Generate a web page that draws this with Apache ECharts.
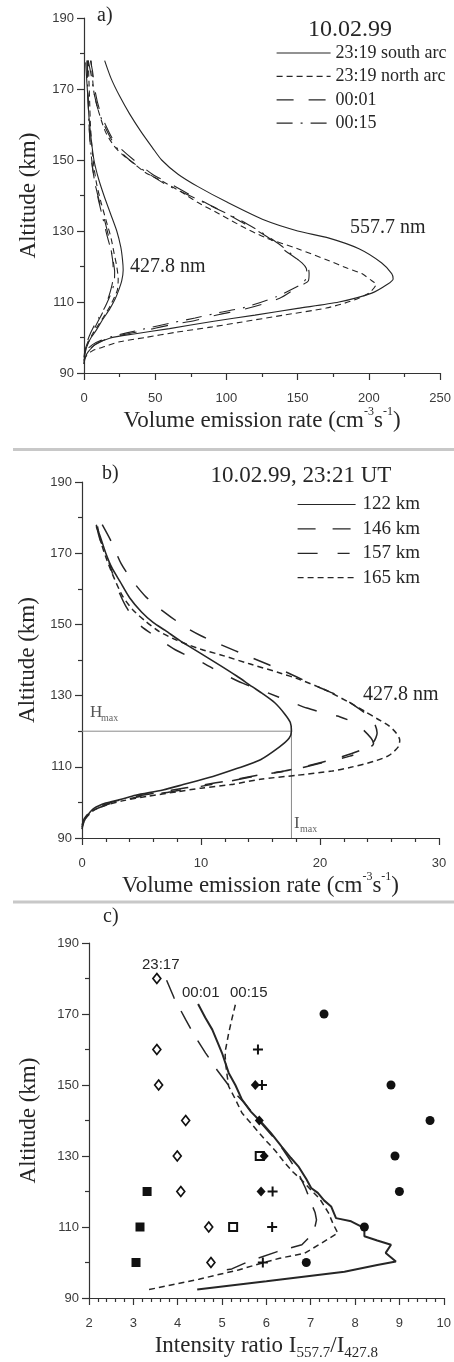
<!DOCTYPE html>
<html>
<head>
<meta charset="utf-8">
<script src="https://cdn.jsdelivr.net/npm/echarts/dist/echarts.min.js"></script>
<style>
html, body { margin: 0; padding: 0; background: #fff; }
#chart { width: 454px; height: 1362px; }
</style>
</head>
<body>
<div id="chart"></div>
<script>
// ---------- a) volume emission rate, 10.02.99 : [rate, altitude km] ----------
const southArc5577 = [[14.5,178],[19,173],[25,168],[32,163],[40,158],[48,153.5],[54.5,150],[66,146],[80,142.5],[101,138],[127,133],[150,130],[172,128],[193,125],[209,121],[216,118],[217,116.5],[213,115],[202,112.5],[179,110],[150,108.2],[120,106.3],[90,104.5],[60,102.5],[35,101],[18,99.8],[8,98],[3,96],[1,94.5],[0,92.5]];
const northArc5577 = [[5,178],[6,173],[7,169],[10,164],[15,158],[21,154],[27,151.5],[35,149],[43,146.5],[55,144],[67,141.3],[80,138],[95,134.8],[110,131.5],[127,128.2],[150,125],[172,121.6],[185,119.5],[195,118],[202,116],[205,115],[200,112.5],[187,110.2],[170,108.3],[140,106.3],[110,104.3],[90,103],[65,101.5],[43,100],[25,98.8],[15,97.5],[6,96.3],[2,95],[0,93.5]];
const t0001_5577 = [[4.5,178],[6,175],[8,169],[11,164],[15,160],[20,156],[25,153.5],[35,150],[48,146],[62,143],[78,139.4],[95,136],[113,132],[128,128.5],[141,124.5],[150,122],[157,120],[158,118],[157.5,116],[150,114.2],[137,111],[113,108],[95,106.5],[78,104.8],[60,103.5],[43,102],[30,101],[20,100.1],[12,99],[6,97.5],[2,96],[0,94]];
const t0015_5577 = [[3,178],[5,174],[7,169],[10,164],[14,160],[19,156],[24,153],[32,150],[44,146.5],[58,143],[74,140],[92,136.5],[110,133],[125,129.5],[138,126],[147,123],[153,121],[156,119.5],[156.5,117.5],[154,115.5],[148,114],[135,111.5],[113,108.5],[95,107],[78,105.5],[60,104],[43,102.5],[30,101.3],[20,100.3],[12,99.2],[6,98],[2,96.5],[0,94.5]];
const southArc4278 = [[1.2,177.5],[2,172],[2.8,167],[3.5,162],[5,156],[7,150],[10,145],[14,140],[18.5,135],[23,130],[25.8,125.5],[27,122],[27.5,119],[26.5,116],[24.5,113.5],[22,111],[18,108],[13,105],[8.5,102],[5,100],[2.5,98],[1,96],[0.2,94],[0,92.5]];
const northArc4278 = [[3,178],[3.5,172],[4,166],[4.5,160],[5.5,154],[7,148],[9,143],[12,138],[15.5,133],[19,128],[21,124],[23,120],[24,116.5],[23.5,113.5],[21.5,111.5],[18.5,109],[14,106],[10,103.5],[6,101],[3.5,99],[1.5,97],[0.3,95],[0,93.5]];
const t0001_4278 = [[2,178],[2.5,172],[3,166],[3.5,160],[4.5,154],[6,148],[8,143],[11,138],[14.5,133],[17.5,128],[19.3,124],[20.3,121],[20.5,118.5],[20,115.5],[18.5,113],[16.5,110.5],[13,107],[9.5,104.3],[6,101.5],[3.5,99.5],[1.5,97.5],[0.3,95.5],[0,94]];
const t0015_4278 = [[2.5,178],[2.5,172],[3,166],[3.5,160],[4.5,154],[5.5,149],[7.5,144],[10,139],[13,134],[16,129],[18.7,125],[20.5,121.5],[21.5,118.5],[21.3,116],[20,113.5],[17.5,111],[14,108],[10,105.3],[6.5,102.8],[3.8,100.5],[1.6,98],[0.4,96],[0,94.5]];

// ---------- b) 427.8 nm profiles, 10.02.99 23:21 UT ----------
const km122 = [[1.2,177.5],[1.5,175],[2,170],[2.5,166],[3.2,162],[4,157.5],[5,153.5],[6,150.5],[7,148.3],[8.2,145.5],[9.9,142],[11.6,138.5],[13,135.5],[14.3,132.5],[15.2,130.5],[16.2,128],[17,125],[17.5,122.5],[17.6,120],[17.4,118],[16.6,115.6],[15,112],[13,109.5],[11,107.3],[8.5,105],[6.8,103.5],[4.5,102],[3.2,100.8],[2,99.8],[1,98.3],[0.5,96.5],[0.15,94.5],[0,92.5]];
const km146 = [[1.7,178],[2.5,173],[3.3,167],[4.3,162],[5.3,158],[6.3,155],[7.5,152],[8.8,149],[10,146.8],[11.4,144.7],[14.3,140.6],[17.1,136.7],[19.8,132.5],[21.5,130],[22.9,127.2],[24,124.5],[24.6,122],[24.8,119.5],[24.5,117],[23.5,114.8],[21.5,112.5],[19,110.3],[17,108.8],[15,107.8],[12.5,106.2],[10,104.8],[7.5,103.4],[5,102],[3,100.5],[1.8,99.3],[0.8,97.8],[0.2,95.5],[0,93.5]];
const km157 = [[1.2,178],[1.5,174],[2,170],[2.5,165],[3,160],[3.7,155],[4.7,150.3],[6,147],[8,142.6],[10,139.5],[11.5,136.7],[13.5,133.5],[15.6,130.8],[17.5,128.3],[18.9,126.5],[20.5,125],[21.7,124],[22.8,122.5],[23.6,120.5],[24.3,118],[24.5,116.5],[24,115],[22.5,113],[20,111],[17.5,109],[15,107.7],[12.5,106],[10,104.5],[7.5,103],[5,101.7],[3,100.3],[1.8,99],[0.8,97.5],[0.2,95.5],[0,93.5]];
const km165 = [[1.3,177.5],[1.6,173],[2.1,168],[2.7,163],[3.4,158],[4.3,154],[5.3,151],[6.5,148],[8,145.5],[10,143],[11.6,141.5],[14,139],[16.5,136.5],[18.3,134.5],[20.5,131.5],[22.5,128],[23.8,125.5],[24.8,123.5],[25.8,121.5],[26.4,119.5],[26.7,117.5],[26.6,115.7],[25.8,113.2],[24.5,111.5],[22.5,109.8],[21,108.8],[18,107.6],[15,106.5],[12.5,105],[10,104],[8,103],[5.5,101.7],[3.5,100.5],[2,99.2],[1,97.8],[0.3,95.5],[0,93]];

// ---------- c) intensity ratio I557.7 / I427.8 ----------
const ratio2317 = [[3.75,179.5],[3.92,174.5],[4.18,168.4],[4.4,163.5],[4.63,159],[4.9,154],[5.22,148.7],[5.5,145],[5.75,141.2],[6.0,137.5],[6.27,133.7],[6.5,129.5],[6.72,125.2],[6.88,121],[6.98,117.7],[7.1,114],[7.13,112],[7.09,109.7],[7.0,107.5],[6.8,105],[6.23,103],[5.6,100.3],[5.22,98.2],[4.85,97.4]];
const ratio0001 = [[4.46,172.8],[4.62,169],[4.78,165.6],[4.9,162],[5.0,159],[5.15,153.4],[5.3,150],[5.45,145.9],[5.65,142.5],[5.9,139.3],[6.1,136.5],[6.34,132.7],[6.55,129.5],[6.72,127.1],[6.9,123.5],[7.01,121],[7.16,119.6],[7.3,117.5],[7.46,115.8],[7.57,112.5],[7.91,111.6],[8.21,109.7],[8.21,107.4],[8.5,106.2],[8.81,105],[8.69,102.7],[8.92,100.3],[8.5,99.3],[7.76,97.4],[6.0,94.7],[4.44,92.4]];
const ratio0015 = [[5.3,172.6],[5.22,168.5],[5.15,164.6],[5.08,160],[5.07,158],[5.1,154],[5.15,149.6],[5.3,146],[5.45,142.1],[5.7,138.5],[5.97,134.6],[6.2,131.5],[6.42,128],[6.6,125.5],[6.79,123.3],[7.0,120.5],[7.2,118],[7.4,114],[7.5,111],[7.61,108.3],[7.25,105.5],[6.86,102.6],[6.3,101.2],[5.89,99.8],[5.37,97.9],[4.48,95.3],[3.33,92.3]];
const openDiamonds = [[3.53,180],[3.53,160],[3.57,150],[4.18,140],[3.99,130],[4.07,120],[4.70,110],[4.75,100]];
const filledSquares = [[3.31,120],[3.15,110],[3.06,100]];
const openSquares = [[5.25,110],[5.85,130]];
const filledDiamonds = [[5.75,150],[5.84,140],[5.95,130],[5.88,120]];
const plusMarks = [[5.81,160],[5.90,150],[6.14,120],[6.13,110],[5.92,100]];
const filledCircles = [[7.30,170],[8.81,150],[9.69,140],[8.90,130],[9.00,120],[8.21,110],[6.90,100]];

// tick values
const altTicks = { min: 90, max: 190, step: 20 };
const rateTicksA = { min: 0, max: 250, step: 50 };
const rateTicksB = { min: 0, max: 30, step: 10 };
const ratioTicks = { min: 2, max: 10, step: 1 };

// ---------- styling ----------
const SERIF = '"Liberation Serif", "DejaVu Serif", serif';
const SANS = '"Liberation Sans", Arial, sans-serif';
const INK = '#262626';

function yAxis(gridIndex, nameGap) {
  return {
    type: 'value', gridIndex, min: altTicks.min, max: altTicks.max, interval: altTicks.step,
    name: 'Altitude (km)', nameLocation: 'middle', nameRotate: 90, nameGap,
    nameTextStyle: { fontFamily: SERIF, fontSize: 23, color: INK },
    axisLine: { show: true, lineStyle: { color: '#333', width: 1.2 } },
    axisTick: { show: true, length: 7, lineStyle: { color: '#333', width: 1.2 } },
    minorTick: { show: true, splitNumber: 2, length: 4, lineStyle: { color: '#333', width: 1.2 } },
    splitLine: { show: false },
    axisLabel: { fontFamily: SANS, fontSize: 13, color: '#3a3a3a', margin: 10 }
  };
}
const titleRich = {
  t: { fontFamily: SERIF, fontSize: 23, color: INK, lineHeight: 30 },
  u: { fontFamily: SERIF, fontSize: 12, color: INK, verticalAlign: 'top', lineHeight: 14 },
  s: { fontFamily: SERIF, fontSize: 15, color: INK, verticalAlign: 'bottom', lineHeight: 16 }
};
function xAxis(gridIndex, t, minorSplit, name, nameGap) {
  return {
    type: 'value', gridIndex, min: t.min, max: t.max, interval: t.step,
    name, nameLocation: 'middle', nameGap,
    nameTextStyle: { fontFamily: SERIF, fontSize: 23, color: INK, rich: titleRich },
    axisLine: { show: true, onZero: false, lineStyle: { color: '#333', width: 1.2 } },
    axisTick: { show: true, length: 7, lineStyle: { color: '#333', width: 1.2 } },
    minorTick: { show: true, splitNumber: minorSplit, length: 4, lineStyle: { color: '#333', width: 1.2 } },
    splitLine: { show: false },
    axisLabel: { fontFamily: SANS, fontSize: 13, color: '#3a3a3a', margin: 19 }
  };
}
function curve(name, data, xi, dash, width) {
  return {
    type: 'line', name, data, xAxisIndex: xi, yAxisIndex: xi,
    symbol: 'none', smooth: 0.25, silent: true, z: 3,
    itemStyle: { color: INK },
    lineStyle: { color: INK, width: width || 1.1, type: dash || 'solid' },
    emphasis: { disabled: true }
  };
}
function marks(name, data, symbol, size, fill, stroke, bw) {
  return {
    type: 'scatter', name, data, xAxisIndex: 2, yAxisIndex: 2,
    symbol, symbolSize: size, silent: true, z: 5,
    itemStyle: { color: fill, borderColor: stroke, borderWidth: bw || 0, opacity: 1 },
    emphasis: { disabled: true }
  };
}

// peak of the 122 km profile marks H_max / I_max
const peak122 = km122.reduce((a, b) => (b[0] > a[0] ? b : a));
const peakGuide = [[0, peak122[1]], [peak122[0], peak122[1]], [peak122[0], altTicks.min]];

const DASH_SHORT = [6, 4];
const DASH_LONG = [17, 15];
const DASH_DOT = [16, 8, 2, 8];
const DASH_146 = [18, 17];
const DASH_157 = [20, 20, 12, 20];
const DASH_C = [20, 14];
const PLUS = 'path://M4,0H6V4H10V6H6V10H4V6H0V4H4Z';

const series = [
  curve('23:19 south arc', southArc5577, 0),
  curve('23:19 north arc', northArc5577, 0, DASH_SHORT),
  curve('00:01', t0001_5577, 0, DASH_LONG),
  curve('00:15', t0015_5577, 0, DASH_DOT),
  curve('23:19 south arc', southArc4278, 0),
  curve('23:19 north arc', northArc4278, 0, DASH_SHORT),
  curve('00:01', t0001_4278, 0, DASH_LONG),
  curve('00:15', t0015_4278, 0, DASH_DOT),

  { type: 'line', name: 'peak guide', data: peakGuide, xAxisIndex: 1, yAxisIndex: 1, symbol: 'none',
    silent: true, z: 2, lineStyle: { color: '#8a8a8a', width: 1 } },
  curve('122 km', km122, 1, 'solid', 1.6),
  curve('146 km', km146, 1, DASH_146, 1.5),
  curve('157 km', km157, 1, DASH_157, 1.5),
  curve('165 km', km165, 1, DASH_SHORT, 1.5),

  Object.assign(curve('23:17 ratio', ratio2317, 2, DASH_C, 1.5), { smooth: false }),
  Object.assign(curve('00:01 ratio', ratio0001, 2, 'solid', 2), { smooth: false }),
  Object.assign(curve('00:15 ratio', ratio0015, 2, DASH_SHORT, 1.5), { smooth: false }),
  marks('open diamond', openDiamonds, 'diamond', [8, 10], '#fff', '#111', 1.6),
  marks('filled square', filledSquares, 'rect', 9, '#111'),
  marks('open square', openSquares, 'rect', 8, '#fff', '#111', 2),
  marks('filled diamond', filledDiamonds, 'diamond', [9, 10], '#111'),
  marks('plus', plusMarks, PLUS, 10, '#111'),
  marks('filled circle', filledCircles, 'circle', 9, '#111')
];

const legendCommon = {
  show: true, orient: 'vertical', padding: 0, itemHeight: 14, itemGap: 5.4, selectedMode: false,
  itemStyle: { color: 'rgba(0,0,0,0)', borderColor: 'rgba(0,0,0,0)', borderWidth: 0, opacity: 0 },
  lineStyle: { width: 1.2 }
};

function txt(x, y, text, font, align, color) {
  return { type: 'text', x, y, silent: true, z: 10,
    style: { text, font, fill: color || INK, align: align || 'left', verticalAlign: 'middle' } };
}

const option = {
  animation: false,
  backgroundColor: '#fff',
  grid: [
    { left: 84, top: 18, width: 358, height: 355 },
    { left: 82, top: 482, width: 357, height: 356 },
    { left: 89, top: 943, width: 358, height: 355 }
  ],
  xAxis: [
    xAxis(0, rateTicksA, 2, '{t|Volume emission rate (cm}{u|-3}{t|s}{u|-1}{t|)}', 32),
    xAxis(1, rateTicksB, 5, '{t|Volume emission rate (cm}{u|-3}{t|s}{u|-1}{t|)}', 30),
    xAxis(2, ratioTicks, 5, '{t|Intensity ratio I}{s|557.7}{t|/I}{s|427.8}', 33)
  ],
  yAxis: [yAxis(0, 44), yAxis(1, 42), yAxis(2, 49)],
  legend: [
    Object.assign({}, legendCommon, {
      left: 276, top: 44, itemWidth: 54,
      textStyle: { fontFamily: SERIF, fontSize: 18, color: INK },
      data: ['23:19 south arc', '23:19 north arc', '00:01', '00:15'] }),
    Object.assign({}, legendCommon, {
      left: 297, top: 495, itemWidth: 58,
      textStyle: { fontFamily: SERIF, fontSize: 19, color: INK, padding: [0, 0, 0, 2] },
      data: ['122 km', '146 km', '157 km', '165 km'] })
  ],
  graphic: [
    txt(97, 16, 'a)', '20px ' + SERIF),
    txt(350, 30, '10.02.99', '24px ' + SERIF, 'center'),
    txt(350, 228, '557.7 nm', '20px ' + SERIF),
    txt(130, 267, '427.8 nm', '20px ' + SERIF),
    { type: 'line', silent: true, shape: { x1: 13, y1: 449.5, x2: 454, y2: 449.5 }, style: { stroke: '#c8c8c8', lineWidth: 3 } },

    txt(102, 474, 'b)', '20px ' + SERIF),
    txt(301, 476, '10.02.99, 23:21 UT', '23px ' + SERIF, 'center'),
    txt(363, 695, '427.8 nm', '20px ' + SERIF),
    txt(90, 713, 'H', '17px ' + SERIF, 'left', '#555'),
    txt(101, 718, 'max', '10px ' + SERIF, 'left', '#666'),
    txt(294, 824, 'I', '17px ' + SERIF, 'left', '#555'),
    txt(300, 829, 'max', '10px ' + SERIF, 'left', '#666'),
    { type: 'line', silent: true, shape: { x1: 13, y1: 902, x2: 454, y2: 902 }, style: { stroke: '#c8c8c8', lineWidth: 3 } },

    txt(103, 917, 'c)', '20px ' + SERIF),
    txt(142, 965, '23:17', '15px ' + SANS),
    txt(182, 993, '00:01', '15px ' + SANS),
    txt(230, 993, '00:15', '15px ' + SANS)
  ],
  series
};

const chart = echarts.init(document.getElementById('chart'), null, { renderer: 'canvas' });
chart.setOption(option);
</script>
</body>
</html>
